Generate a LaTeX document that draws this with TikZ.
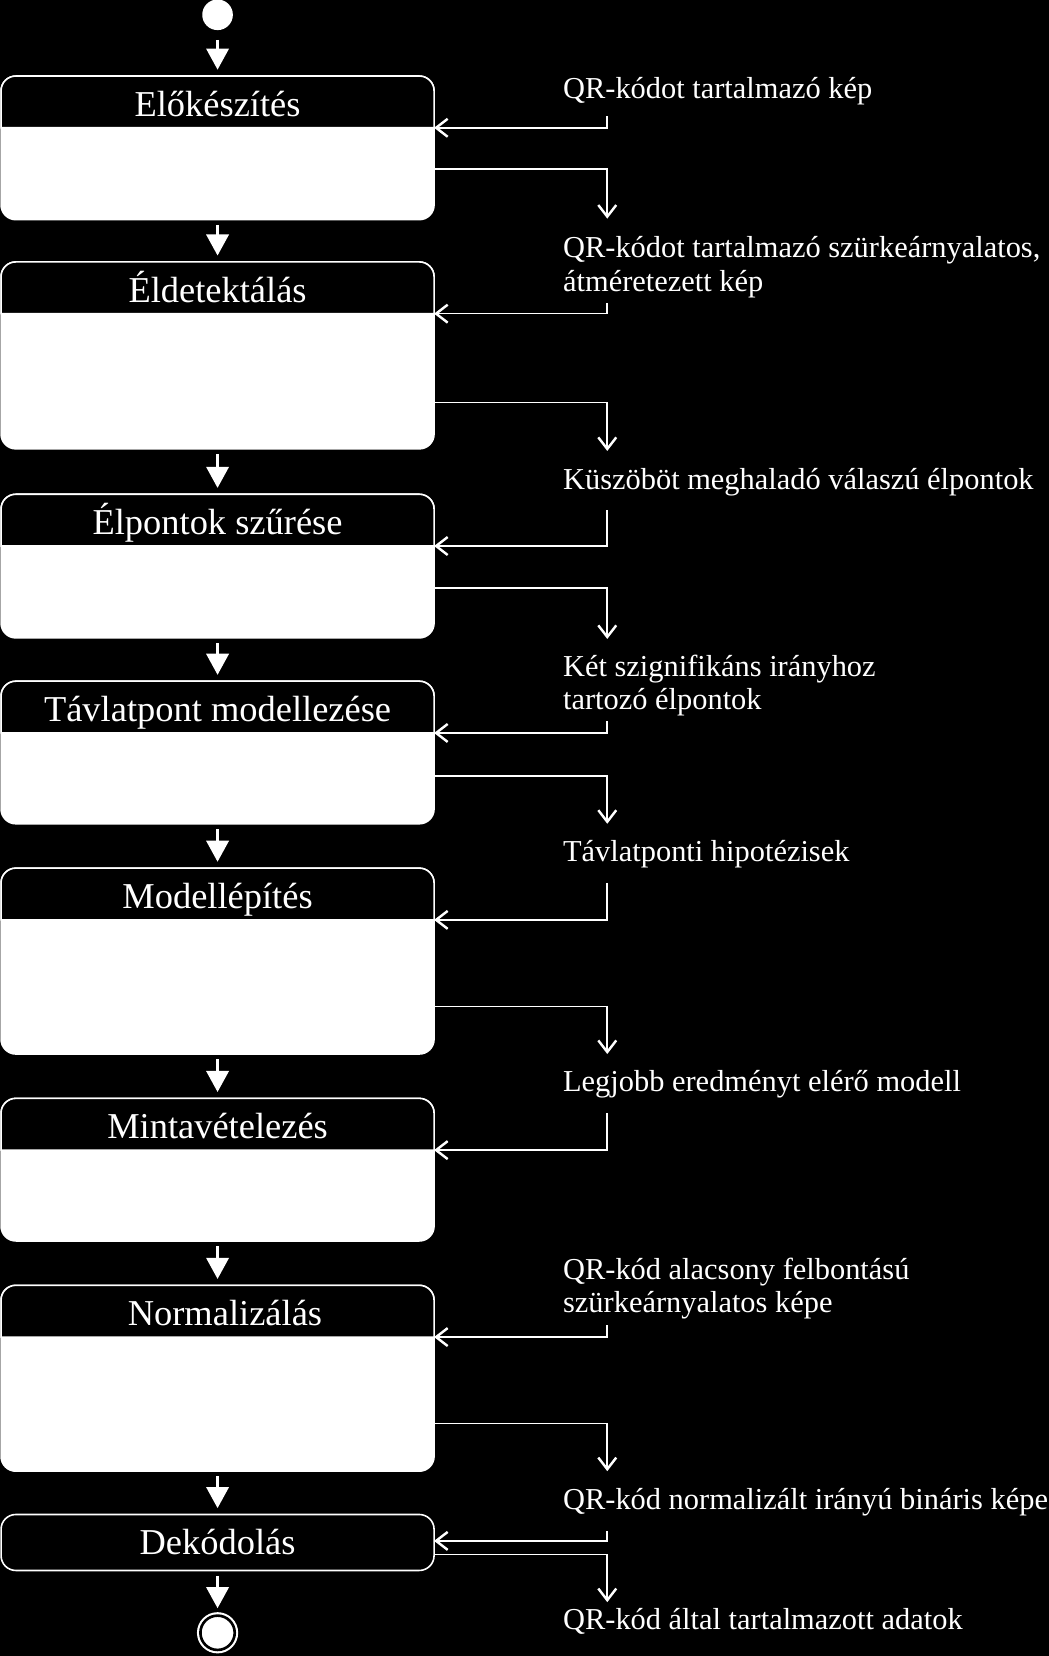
\documentclass[tikz,border=0pt]{standalone}
\usepackage{fontspec}
\setmainfont{Liberation Serif}
\usetikzlibrary{arrows.meta}
\begin{document}
\begin{tikzpicture}
		[x=1pt, y=1pt,
			box/.style ={rectangle, draw=white, fill=white, line width=1.5pt, rounded corners=14pt, minimum width=410pt, inner sep=0pt, outer sep=0pt, anchor=north},
 head/.style ={draw=white, fill=black, line width=1.5pt},
 title/.style ={rectangle, text=white, minimum width=410pt, minimum height=49pt, text height=30pt, text depth=3pt, inner sep=0pt, outer sep=0pt, font=\fontsize{34.5}{40}\selectfont},
 data/.style ={text=white, anchor=west, align=left, inner sep=0pt, font=\fontsize{28.8}{32}\selectfont},
 pass/.style ={draw=white, line width=3pt, -{Triangle[length=20pt,width=21pt]}, shorten <=5pt, shorten >=6pt},
 line/.style ={draw=white, line width=1.5pt, -{Straight Barb[length=11pt,width=17pt,line width=2.3pt]}},
 start/.style ={circle, fill=white, minimum size=29pt, inner sep=0pt},
 stop/.style ={circle, fill=white, draw=white, line width=2pt, double=black, double distance=2.5pt, minimum size=32.5pt, inner sep=0pt}]
		\fill[black] (0,0) rectangle (993,-1568);
		\useasboundingbox (0,0) rectangle (993,-1568);
%		% start node and the stages
		\node[start] (start) at (206,-14) {};
		\node[box, minimum height=136pt] (b1) at (206,-72) {};
		\draw[head] ([yshift=-49pt]b1.north west) -- ([yshift=-14pt]b1.north west) arc[start angle=180, end angle=90, radius=14pt] -- ([xshift=-14pt]b1.north east) arc[start angle=90, end angle=0, radius=14pt] -- ([yshift=-49pt]b1.north east) -- cycle;
		\node[title, anchor=north] (h1) at (b1.north) {Előkészítés};
		\node[box, minimum height=177pt] (b2) at (206,-248) {};
		\draw[head] ([yshift=-49pt]b2.north west) -- ([yshift=-14pt]b2.north west) arc[start angle=180, end angle=90, radius=14pt] -- ([xshift=-14pt]b2.north east) arc[start angle=90, end angle=0, radius=14pt] -- ([yshift=-49pt]b2.north east) -- cycle;
		\node[title, anchor=north] (h2) at (b2.north) {Éldetektálás};
		\node[box, minimum height=136pt] (b3) at (206,-468) {};
		\draw[head] ([yshift=-49pt]b3.north west) -- ([yshift=-14pt]b3.north west) arc[start angle=180, end angle=90, radius=14pt] -- ([xshift=-14pt]b3.north east) arc[start angle=90, end angle=0, radius=14pt] -- ([yshift=-49pt]b3.north east) -- cycle;
		\node[title, anchor=north] (h3) at (b3.north) {Élpontok szűrése};
		\node[box, minimum height=135pt] (b4) at (206,-645) {};
		\draw[head] ([yshift=-49pt]b4.north west) -- ([yshift=-14pt]b4.north west) arc[start angle=180, end angle=90, radius=14pt] -- ([xshift=-14pt]b4.north east) arc[start angle=90, end angle=0, radius=14pt] -- ([yshift=-49pt]b4.north east) -- cycle;
		\node[title, anchor=north] (h4) at (b4.north) {Távlatpont modellezése};
		\node[box, minimum height=176pt] (b5) at (206,-822) {};
		\draw[head] ([yshift=-49pt]b5.north west) -- ([yshift=-14pt]b5.north west) arc[start angle=180, end angle=90, radius=14pt] -- ([xshift=-14pt]b5.north east) arc[start angle=90, end angle=0, radius=14pt] -- ([yshift=-49pt]b5.north east) -- cycle;
		\node[title, anchor=north] (h5) at (b5.north) {Modellépítés};
		\node[box, minimum height=135pt] (b6) at (206,-1040) {};
		\draw[head] ([yshift=-49pt]b6.north west) -- ([yshift=-14pt]b6.north west) arc[start angle=180, end angle=90, radius=14pt] -- ([xshift=-14pt]b6.north east) arc[start angle=90, end angle=0, radius=14pt] -- ([yshift=-49pt]b6.north east) -- cycle;
		\node[title, anchor=north] (h6) at (b6.north) {Mintavételezés};
		\node[box, minimum height=176pt] (b7) at (206,-1217) {};
		\draw[head] ([yshift=-49pt]b7.north west) -- ([yshift=-14pt]b7.north west) arc[start angle=180, end angle=90, radius=14pt] -- ([xshift=-14pt]b7.north east) arc[start angle=90, end angle=0, radius=14pt] -- ([yshift=-49pt]b7.north east) -- cycle;
		\node[title, anchor=north, xshift=7pt] (h7) at (b7.north) {Normalizálás};
		\node[box, fill=black, minimum height=53pt, text=white, text height=28pt, text depth=5pt, font=\fontsize{34.5}{40}\selectfont] (b8) at (206,-1434) {Dekódolás};
		\node[stop] (stop) at (206,-1546) {};
%		% flow between the stages
		\draw[pass, shorten <=9pt] (start) -- (b1);
		\draw[pass] (b1) -- (b2);
		\draw[pass] (b2) -- (b3);
		\draw[pass] (b3) -- (b4);
		\draw[pass] (b4) -- (b5);
		\draw[pass] (b5) -- (b6);
		\draw[pass] (b6) -- (b7);
		\draw[pass] (b7) -- (b8);
		\draw[pass] (b8) -- (stop);
%		% data on the right
		\node[data] (t1) at (533,-86.5) {QR-kódot tartalmazó kép};
		\node[data] (t2) at (533,-253) {QR-kódot tartalmazó szürkeárnyalatos,\\átméretezett kép};
		\node[data] (t3) at (533,-456.5) {Küszöböt meghaladó válaszú élpontok};
		\node[data] (t4) at (533,-649) {Két szignifikáns irányhoz\\tartozó élpontok};
		\node[data] (t5) at (533,-808.5) {Távlatponti hipotézisek};
		\node[data] (t6) at (533,-1026.5) {Legjobb eredményt elérő modell};
		\node[data] (t7) at (533,-1220) {QR-kód alacsony felbontású\\szürkeárnyalatos képe};
		\node[data] (t8) at (533,-1422.5) {QR-kód normalizált irányú bináris képe};
		\node[data] (t9) at (533,-1535.5) {QR-kód által tartalmazott adatok};
		\coordinate (u1) at (575,-110);
		\coordinate (d1) at (575,-207);
		\coordinate (u2) at (575,-287);
		\coordinate (d2) at (575,-427);
		\coordinate (u3) at (575,-483);
		\coordinate (d3) at (575,-605);
		\coordinate (u4) at (575,-683);
		\coordinate (d4) at (575,-780);
		\coordinate (u5) at (575,-836);
		\coordinate (d5) at (575,-998);
		\coordinate (u6) at (575,-1054);
		\coordinate (u7) at (575,-1255);
		\coordinate (d7) at (575,-1393);
		\coordinate (u8) at (575,-1450);
		\coordinate (d8) at (575,-1517);
		\draw[line] (u1) |- (h1.south east);
		\draw[line] ([yshift=-20pt]b1.east) -| (d1);
		\draw[line] (u2) |- (h2.south east);
		\draw[line] ([yshift=-44.5pt]b2.east) -| (d2);
		\draw[line] (u3) |- (h3.south east);
		\draw[line] ([yshift=-21pt]b3.east) -| (d3);
		\draw[line] (u4) |- (h4.south east);
		\draw[line] ([yshift=-22.5pt]b4.east) -| (d4);
		\draw[line] (u5) |- (h5.south east);
		\draw[line] ([yshift=-43pt]b5.east) -| (d5);
		\draw[line] (u6) |- (h6.south east);
		\draw[line] (u7) |- ([xshift=-7pt]h7.south east);
		\draw[line] ([yshift=-43pt]b7.east) -| (d7);
		\draw[line] (u8) |- ([yshift=1.5pt]b8.east);
		\draw[line] ([yshift=-11.5pt]b8.east) -| (d8);
	\end{tikzpicture}
\end{document}
